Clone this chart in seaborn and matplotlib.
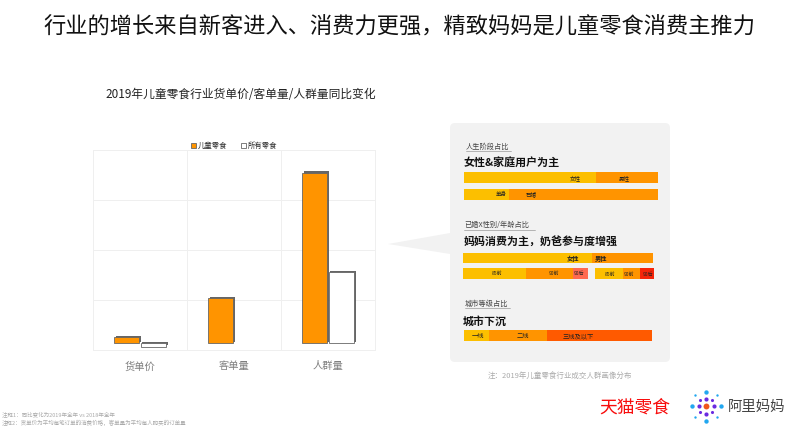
import numpy as np
import pandas as pd
import matplotlib
matplotlib.use("Agg")
import matplotlib.pyplot as plt
import matplotlib.patheffects as pe
from matplotlib.patches import FancyBboxPatch, Polygon
import seaborn as sns

# bar chart data
metrics = ["货单价", "客单量", "人群量"]
kids_snacks = [2.4, 18.0, 68.3]
all_snacks = [-1.3, 0.0, 28.4]

# share bars in the grey panel
gender_share = [68, 32]
life_stage_share = [23, 77]
married_gender_share = [68, 32]
mom_age_share = [50.4, 37.6, 12.0]
dad_age_share = [48.0, 27.7, 24.3]
city_share = [13, 31, 56]

YELLOW = "#fcbf00"
ORANGE = "#ff9400"
DEEP = "#ff5a00"

sns.set_theme(style="white")
plt.rcParams["font.family"] = ["Noto Sans CJK SC", "DejaVu Sans"]

W, H = 800, 428
fig = plt.figure(figsize=(W / 100, H / 100), dpi=100)

# background layer in pixel coordinates
bg = fig.add_axes([0, 0, 1, 1])
bg.set_xlim(0, W)
bg.set_ylim(H, 0)
bg.axis("off")

bg.text(399, 27, "行业的增长来自新客进入、消费力更强，精致妈妈是儿童零食消费主推力",
        ha="center", va="center", fontsize=16, color="#111111")
bg.text(105, 94, "2019年儿童零食行业货单价/客单量/人群量同比变化",
        va="center", fontsize=8.45, color="#222222")

# grey panel and pointer
bg.add_patch(Polygon([(388, 244), (450, 233), (450, 254)], fc="#f2f2f2", ec="none"))
bg.add_patch(FancyBboxPatch((453, 126), 214, 233, boxstyle="round,pad=3,rounding_size=5",
                            fc="#f2f2f2", ec="none"))


def stack(y0, y1, x0, x1, shares, colors, labels, label_x, bold=False, size=4):
    total = sum(shares)
    left = x0
    for share, color, label, lx in zip(shares, colors, labels, label_x):
        w = (x1 - x0) * share / total
        bg.barh((y0 + y1) / 2, w, height=y1 - y0, left=left, color=color, linewidth=0)
        bg.text(lx, (y0 + y1) / 2 + 0.5, label, ha="center", va="center", fontsize=size,
                color="#222222", fontweight="bold" if bold else "normal")
        left += w


def heading(x, y, small, big):
    bg.text(x, y, small, va="center", fontsize=5.2, color="#444444")
    bg.plot([x, x + 45], [y + 4, y + 4], color="#999999", lw=0.5)
    bg.text(x - 2, y + 17, big, va="center", fontsize=7.9, fontweight="bold", color="#111111")


heading(466, 146.5, "人生阶段占比", "女性&家庭用户为主")
stack(172, 183.3, 464, 658, gender_share, [YELLOW, ORANGE], ["女性", "男性"], [575, 624])
stack(188.7, 199.7, 464, 657.7, life_stage_share, [YELLOW, ORANGE], ["单身", "已婚"], [501.5, 531])

bg.text(464, 225, "已婚X性别/年龄占比", va="center", fontsize=5.2, color="#444444")
bg.plot([464, 535], [229.5, 229.5], color="#999999", lw=0.5)
bg.text(464, 241, "妈妈消费为主，奶爸参与度增强", va="center", fontsize=7.9,
        fontweight="bold", color="#111111")
stack(252.7, 263.3, 463.3, 652.7, married_gender_share, [YELLOW, ORANGE], ["女性", "男性"],
      [573, 601], bold=True, size=4.5)
stack(268, 278.7, 463, 588, mom_age_share, [YELLOW, ORANGE, "#ff6a50"], ["85前", "90前", "90后"],
      [497.5, 554, 579], size=3.6)
stack(268.3, 279, 595, 654, dad_age_share, [YELLOW, ORANGE, "#f5250a"], ["85前", "90前", "90后"],
      [610, 629, 648], size=3.6)

heading(465, 304, "城市等级占比", "城市下沉")
stack(330, 341, 464.3, 652.3, city_share, [YELLOW, ORANGE, DEEP], ["一线", "二线", "三线及以下"],
      [478, 523, 578], size=4.5)

bg.text(560, 377, "注：2019年儿童零食行业成交人群画像分布", ha="center", va="center",
        fontsize=5.4, color="#aaaaaa")

# footnotes
bg.text(2, 414.5, "注释1：同比变化为2019年全年 vs 2018年全年", va="center", fontsize=4, color="#aaaaaa")
bg.text(2, 423, "注释2：货单价为平均每笔订单的消费价格，客单量为平均每人购买的订单量", va="center",
        fontsize=4, color="#aaaaaa")

# logos
bg.text(634.5, 408, "天猫零食", ha="center", va="center", fontsize=12.8, color="#f80d0d")
bg.text(757, 407, "阿里妈妈", ha="center", va="center", fontsize=10.4, color="#444444")
cx, cy = 706, 406
for r, n, start, color, s in [(14.5, 4, 0, "#22a7f0", 10), (15, 4, 45, "#22a7f0", 3),
                              (7.5, 4, 0, "#6a2be0", 9), (8.5, 4, 45, "#6a2be0", 5)]:
    ang = np.radians(start + np.arange(n) * 90)
    bg.scatter(cx + r * np.cos(ang), cy + r * np.sin(ang), s=s, color=color, linewidth=0)
bg.scatter([cx], [cy], s=18, color="#f0561d", linewidth=0)

# bar chart, axes box is x 93-375 / y 150-350 in pixels
ax = fig.add_axes([93 / W, 1 - 350 / H, 282 / W, 200 / H])
ax.patch.set_alpha(0)
df = pd.DataFrame({
    "metric": metrics * 2,
    "value": kids_snacks + all_snacks,
    "group": ["儿童零食"] * 3 + ["所有零食"] * 3,
})
sns.barplot(data=df, x="metric", y="value", hue="group", palette=[ORANGE, "white"], saturation=1,
            width=0.57, gap=0.05, edgecolor="#666666", linewidth=0.6, ax=ax)
for bar in ax.patches:
    if bar.get_height() == 0:
        bar.set_visible(False)
    else:
        bar.set_path_effects([pe.SimplePatchShadow(offset=(1.2, 1.2), shadow_rgbFace="#555555", alpha=0.9),
                              pe.Normal()])
ax.set_ylim(-2.7, 77.3)
ax.set_yticks([-2.7, 17.3, 37.3, 57.3, 77.3])
ax.set_yticklabels([])
ax.set_xticks([0, 1, 2])
ax.set_xlim(-0.5, 2.5)
ax.set_xlabel("")
ax.set_ylabel("")
ax.set_axisbelow(True)
ax.grid(True, color="#efefef", lw=0.7)
ax.set_xticks([0.5, 1.5], minor=True)
ax.grid(True, which="minor", axis="x", color="#efefef", lw=0.7)
ax.grid(False, which="major", axis="x")
for side in ax.spines.values():
    side.set_color("#efefef")
    side.set_linewidth(0.7)
ax.tick_params(axis="x", which="major", length=0, pad=8, labelsize=7.4, labelcolor="#7f7f7f")
ax.tick_params(axis="both", which="minor", length=0)
ax.tick_params(axis="y", length=0)

sns.move_legend(ax, "lower center", bbox_to_anchor=(0.5, 0.965), ncol=2, frameon=False, title=None,
                fontsize=5.3, handlelength=0.7, handleheight=0.7, columnspacing=1.8, handletextpad=0.3)

fig.savefig("out.png", dpi=100, facecolor="white")
